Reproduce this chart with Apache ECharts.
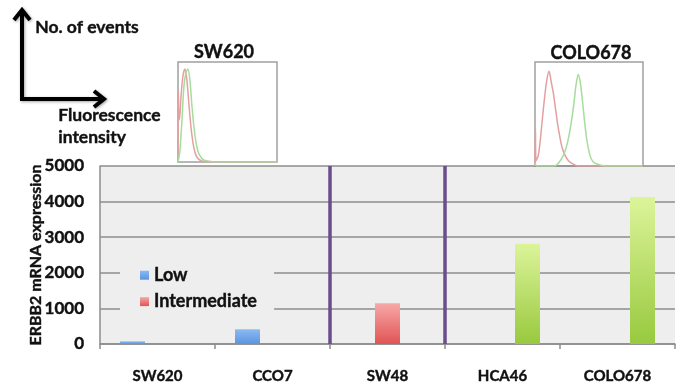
<!DOCTYPE html>
<html><head><meta charset="utf-8">
<script src="https://cdn.jsdelivr.net/npm/echarts@6/dist/echarts.min.js"></script>
<style>html,body{margin:0;padding:0;background:#fff}#c{width:685px;height:387px}</style>
</head><body><div id="c"></div>
<script>
// ---- data ----
const categories = ['SW620', 'CCO7', 'SW48', 'HCA46', 'COLO678'];
const lowValues = [75, 413, '-', '-', '-'];
const intermediateValues = ['-', '-', 1143, '-', '-'];
const highValues = ['-', '-', '-', 2818, 4130];
const yTicks = [0, 1000, 2000, 3000, 4000, 5000];
const dividerPositions = [2, 3]; // boundaries between category groups
// flow histograms (x = fluorescence %, y = events %)
const sw620Red = [[0,0],[0.4,70],[1,42],[2,48],[3,65],[5,86],[7,93],[9,82],[11,58],[13,36],[15,20],[17,10],[19,5],[22,2],[26,0.5],[40,0],[100,0]];
const sw620Green = [[0,0],[1,5],[2,12],[4,42],[6,76],[8,89],[10,93],[12,82],[14,57],[16,36],[18,21],[20,11],[23,5],[26,2],[30,1],[40,0],[100,0]];
const colo678Red = [[0,0],[0.4,37],[1,5],[3,10],[5,26],[7,47],[9,67],[11,83],[13,91],[15,81],[17,70],[19,55],[21,40],[23,28],[25,18],[28,10],[31,5],[35,2],[40,0],[100,0]];
const colo678Green = [[0,3],[2,0],[18,0],[21,2],[24,6],[27,12],[30,22],[33,38],[36,60],[38,78],[40,88],[42,80],[44,62],[46,42],[48,25],[50,14],[52,7],[55,3],[60,1],[65,0],[100,0]];

const FONT = 'Lato';
const INK = '#111111';
const bold = (size)=>({fontFamily:FONT, fontWeight:'bold', fontSize:size, color:INK, textBorderColor:INK, textBorderWidth:0.4});
function grad(top, bottom){
  return new echarts.graphic.LinearGradient(0,0,0,1,[{offset:0,color:top},{offset:1,color:bottom}]);
}
const chart = echarts.init(document.getElementById('c'), null, {renderer:'canvas'});
const histAxisX = (g)=>({type:'value', gridIndex:g, min:0, max:100, show:false});
const histAxisY = (g)=>({type:'value', gridIndex:g, min:0, max:100, show:false});
const option = {
  animation:false,
  backgroundColor:'#ffffff',
  textStyle:{fontFamily:FONT},
  title:[
    {text:'SW620', left:219, top:47, textAlign:'center', textVerticalAlign:'middle', textStyle:bold(18)},
    {text:'COLO678', left:586, top:48, textAlign:'center', textVerticalAlign:'middle', textStyle:bold(18)}
  ],
  legend:{
    data:['Low','Intermediate'], orient:'vertical', left:120, top:256,
    itemWidth:9, itemHeight:9, itemGap:8, icon:'rect',
    backgroundColor:'#eeeeee', padding:[10,17,10,20],
    textStyle:bold(18)
  },
  grid:[
    {left:100, top:166, width:575, height:178, show:true, backgroundColor:'#eeeeee', borderWidth:0},
    {left:178, top:62, width:99, height:100, show:true, backgroundColor:'#ffffff', borderColor:'#a0a0a0', borderWidth:1.5},
    {left:535, top:62, width:108, height:104, show:true, backgroundColor:'#ffffff', borderColor:'#a0a0a0', borderWidth:1.5}
  ],
  xAxis:[
    {type:'category', gridIndex:0, data:categories,
     axisLine:{lineStyle:{color:'#8c8c8c', width:1.5}},
     axisTick:{show:true, length:5, lineStyle:{color:'#8c8c8c', width:1.5}},
     axisLabel:Object.assign({margin:25}, bold(15))},
    {type:'value', gridIndex:0, min:0, max:categories.length, show:false},
    histAxisX(1), histAxisX(2)
  ],
  yAxis:[
    {type:'value', gridIndex:0, min:yTicks[0], max:yTicks[yTicks.length-1], interval:1000,
     name:'ERBB2 mRNA expression', nameLocation:'middle', nameGap:56, nameMoveOverlap:false,
     nameTextStyle:bold(16),
     axisLine:{show:true, lineStyle:{color:'#8c8c8c', width:1.5}},
     axisTick:{show:false},
     axisLabel:Object.assign({margin:16, formatter:(v)=>String(v)}, bold(17)),
     splitLine:{show:true, lineStyle:{color:'#8c8c8c', width:1.5}}},
    histAxisY(1), histAxisY(2)
  ],
  series:[
    {name:'Low', type:'bar', xAxisIndex:0, yAxisIndex:0, data:lowValues, barWidth:25, barGap:'0%',
     itemStyle:{color:grad('#8cbaf2','#5b94e0')}},
    {name:'Intermediate', type:'bar', xAxisIndex:0, yAxisIndex:0, data:intermediateValues, barWidth:25, barGap:'0%',
     itemStyle:{color:grad('#f7a8a8','#e05454')}},
    {name:'High', type:'bar', xAxisIndex:0, yAxisIndex:0, data:highValues, barWidth:25, barGap:'0%',
     itemStyle:{color:grad('#dcf49a','#98c93e')}},
    {name:'dividers', type:'line', xAxisIndex:1, yAxisIndex:0, data:[], silent:true,
     markLine:{silent:true, symbol:'none', label:{show:false},
       lineStyle:{color:'#6a4d8c', width:3.5, type:'solid'},
       data:dividerPositions.map(v=>({xAxis:v}))}},
    {type:'line', xAxisIndex:2, yAxisIndex:1, data:sw620Red, symbol:'none', smooth:0.3, lineStyle:{color:'#e4a0a0', width:1.5}},
    {type:'line', xAxisIndex:2, yAxisIndex:1, data:sw620Green, symbol:'none', smooth:0.3, lineStyle:{color:'#a6dc9c', width:1.5}},
    {type:'line', xAxisIndex:3, yAxisIndex:2, data:colo678Red, symbol:'none', smooth:0.3, lineStyle:{color:'#e4a0a0', width:1.5}},
    {type:'line', xAxisIndex:3, yAxisIndex:2, data:colo678Green, symbol:'none', smooth:0.3, lineStyle:{color:'#a6dc9c', width:1.5}}
  ],
  graphic:[
    {type:'polyline', shape:{points:[[22,11],[22,99],[103,99]]},
     style:{stroke:'#000', lineWidth:4, fill:null, shadowBlur:3, shadowColor:'rgba(0,0,0,0.35)', shadowOffsetX:1, shadowOffsetY:1}},
    {type:'polyline', shape:{points:[[14,20],[22,10],[30,20]]},
     style:{stroke:'#000', lineWidth:4, fill:null, shadowBlur:3, shadowColor:'rgba(0,0,0,0.35)', shadowOffsetX:1, shadowOffsetY:1}},
    {type:'polyline', shape:{points:[[94,91],[104,99],[94,107]]},
     style:{stroke:'#000', lineWidth:4, fill:null, shadowBlur:3, shadowColor:'rgba(0,0,0,0.35)', shadowOffsetX:1, shadowOffsetY:1}},
    {type:'text', left:35, top:18, style:{text:'No. of events', font:'bold 17.5px Lato', fill:INK, stroke:INK, lineWidth:0.4}},
    {type:'text', left:58, top:104, style:{text:'Fluorescence\nintensity', font:'bold 17.5px Lato', fill:INK, stroke:INK, lineWidth:0.4, lineHeight:22}}
  ]
};
chart.setOption(option);
</script>
</body></html>
